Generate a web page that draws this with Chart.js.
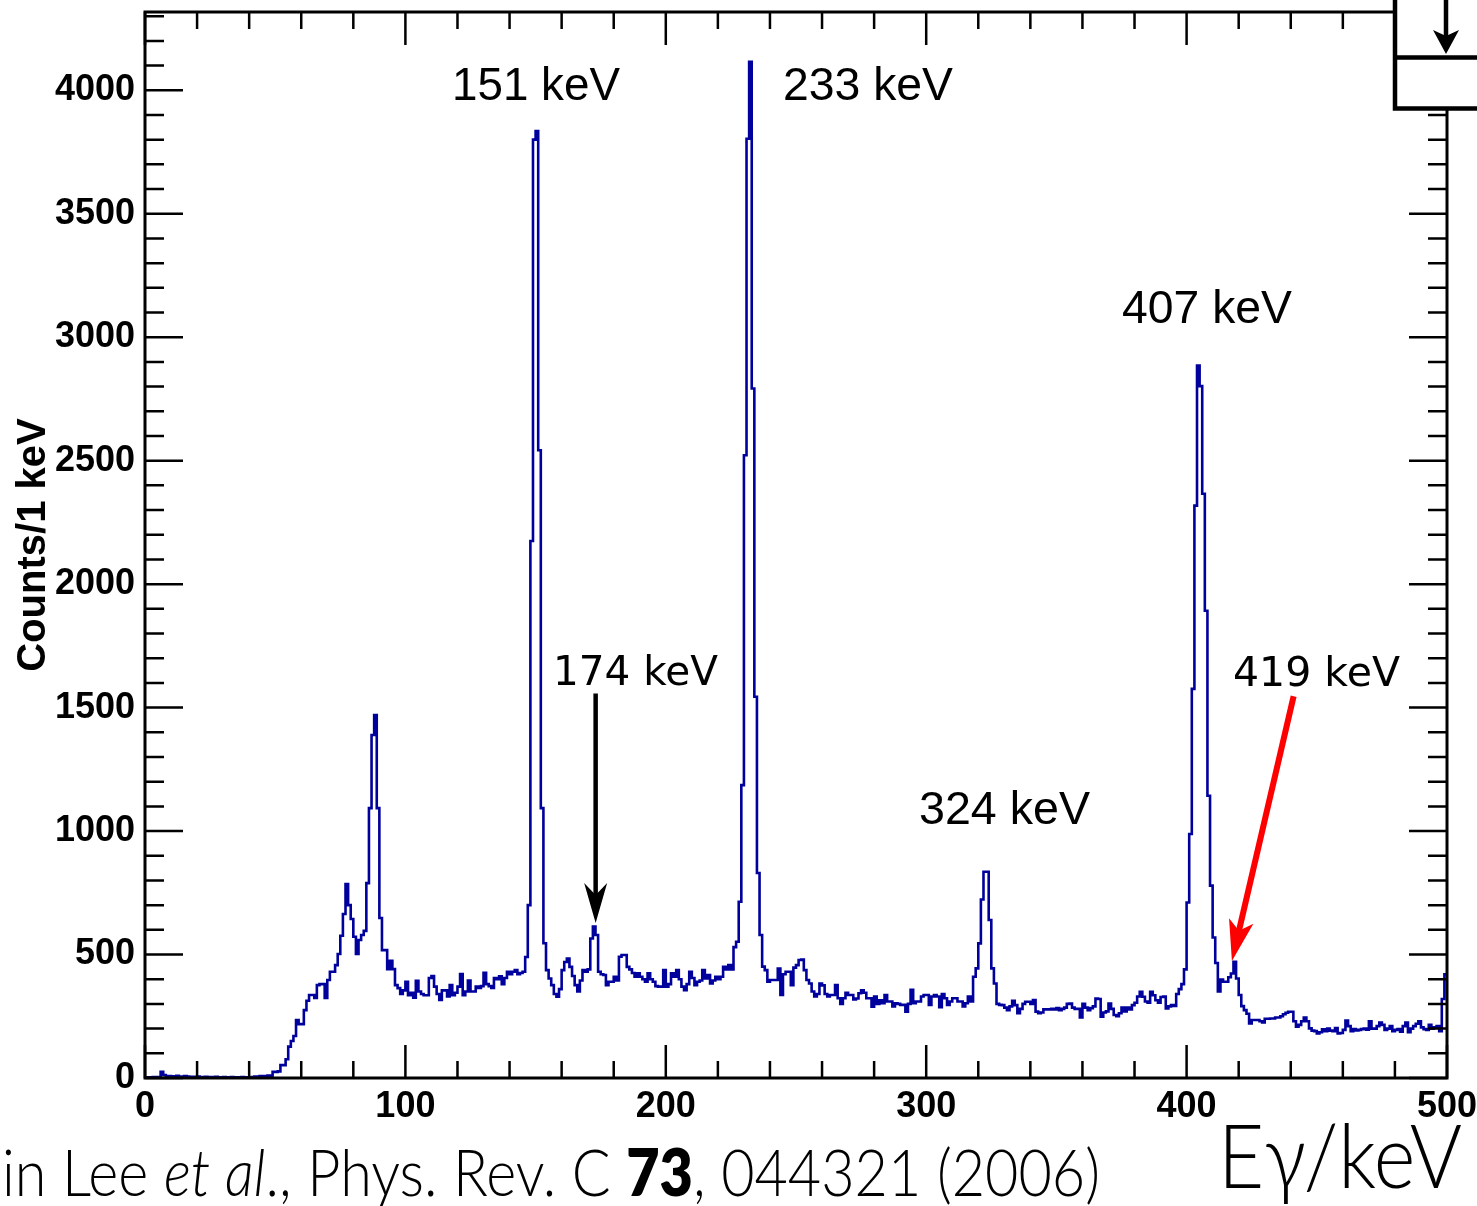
<!DOCTYPE html>
<html>
<head>
<meta charset="utf-8">
<script src="https://cdn.jsdelivr.net/npm/chart.js@4.4.1/dist/chart.umd.min.js"></script>
<style>
html,body{margin:0;padding:0;background:#fff;}
#wrap{position:relative;width:1477px;height:1206px;overflow:hidden;background:#fff;}
#c{position:absolute;left:0;top:0;}
.lbl{position:absolute;white-space:nowrap;line-height:1;color:#000;transform-origin:0 0;}
.helv{font-family:"Liberation Sans",Arial,Helvetica,sans-serif;font-size:46px;}
.dv{font-family:"DejaVu Sans",sans-serif;font-size:41px;}
.gill{font-family:Lato,"Open Sans",sans-serif;font-weight:300;}
</style>
</head>
<body>
<div id="wrap">
<canvas id="c" width="1477" height="1206"></canvas>
<div class="lbl helv" data-w="168" style="left:452px;top:61px;">151 keV</div>
<div class="lbl helv" data-w="170" style="left:783px;top:61px;">233 keV</div>
<div class="lbl helv" data-w="170" style="left:1122px;top:284px;">407 keV</div>
<div class="lbl helv" data-w="171" style="left:919px;top:785px;">324 keV</div>
<div class="lbl dv" data-w="165" style="left:553px;top:651px;">174 keV</div>
<div class="lbl dv" data-w="167" style="left:1233px;top:652px;">419 keV</div>
<div class="lbl gill" data-w="1098" style="left:2px;top:1138px;font-size:66px;">in Lee <i>et al</i>., Phys. Rev. C <b style="font-weight:800">73</b>, 044321 (2006)</div>
<div class="lbl gill" data-w="244" style="left:1218px;top:1110px;font-size:88px;">Eγ/keV</div>
</div>
<script>
// ---- data (1 keV bins, lower edge = index) ----
const firstBinKeV = 0;
const binWidthKeV = 1;
const counts = [
3,2,3,4,3,4,25,12,6,8,
5,7,9,6,5,8,6,4,5,3,
6,4,3,5,2,4,3,5,3,2,
4,3,2,4,3,2,3,4,3,2,
3,4,6,5,8,8,8,10,9,25,
25,27,52,52,76,127,150,170,235,218,
218,275,313,336,336,324,376,380,380,324,
397,430,430,457,502,576,664,785,700,644,
572,502,559,579,596,789,1093,1389,1470,1093,
648,518,518,441,475,441,376,364,340,355,
390,335,345,325,394,350,340,335,335,405,
413,370,340,316,355,355,330,376,335,345,
370,421,335,350,395,350,350,370,365,372,
426,380,372,365,405,400,412,380,405,430,
420,430,437,420,425,430,490,700,2175,3800,
3835,2542,1093,546,437,403,376,340,329,360,
437,470,484,450,413,376,350,395,437,430,
440,565,613,579,430,420,417,376,390,390,
410,395,491,498,498,450,440,425,410,424,
410,400,390,424,400,390,372,370,370,437,
370,380,424,410,437,400,370,356,380,430,
405,376,390,395,437,403,417,383,395,410,
400,410,450,440,457,440,530,552,714,1186,
2522,3804,4115,2792,1544,830,579,451,437,390,
397,397,397,443,336,420,430,430,376,447,
457,478,480,437,397,383,350,330,340,383,
375,340,330,336,336,376,323,300,323,345,
336,336,318,322,343,355,345,323,323,289,
330,300,315,303,336,310,310,290,303,300,
296,296,269,300,357,303,310,310,330,336,
336,296,330,336,330,287,340,323,296,310,
323,323,310,310,290,303,330,310,410,444,
545,723,835,835,640,444,383,300,296,295,
285,275,290,313,295,262,280,300,309,309,
300,316,269,262,265,278,278,278,280,278,
283,275,280,285,300,302,285,280,280,245,
300,285,275,283,290,322,320,248,265,270,
302,280,255,250,262,285,270,285,278,295,
305,330,349,329,310,305,349,335,315,305,
328,330,282,290,295,292,340,360,380,440,
711,988,1576,2318,2885,2802,2366,1892,1143,779,
569,466,350,399,390,390,408,423,471,403,
336,291,275,260,221,235,235,235,230,225,
240,240,241,241,245,245,250,258,264,268,
268,230,208,215,230,245,230,201,192,190,
180,185,197,190,200,192,190,202,180,182,
195,233,210,190,198,193,195,198,200,196,
230,200,200,210,225,215,195,200,210,190,
195,198,188,210,225,185,200,210,220,230,
205,198,195,215,200,205,210,190,320,420
];
const xTickValues = [0,100,200,300,400,500];
const yTickValues = [0,500,1000,1500,2000,2500,3000,3500,4000];
const xMinorStep = 20;
const yMinorStep = 100;
const xRange = [0,500];
const yRange = [0,4317];
// annotation arrows in data units: [x1,y1,x2,y2]
const blackArrow = [173.06,1557,173.06,628];
const redArrow = [441.1,1546,417.4,474];

// histogram as stepped line through bin edges
const histPoints = counts.map((v,i)=>({x:firstBinKeV+i*binWidthKeV, y:v}));
histPoints.push({x:firstBinKeV+counts.length*binWidthKeV, y:counts[counts.length-1]});

function drawArrow(ctx,x1,y1,x2,y2,color,shaftW,headLen,headW,notch){
  const dx=x2-x1, dy=y2-y1, L=Math.hypot(dx,dy);
  const ux=dx/L, uy=dy/L, nx=-uy, ny=ux;
  const bx=x2-ux*headLen, by=y2-uy*headLen;
  const mx=x2-ux*(headLen-notch), my=y2-uy*(headLen-notch);
  ctx.save();
  ctx.strokeStyle=color; ctx.fillStyle=color; ctx.lineWidth=shaftW; ctx.lineCap='butt';
  ctx.beginPath(); ctx.moveTo(x1,y1); ctx.lineTo(mx+ux*2,my+uy*2); ctx.stroke();
  ctx.beginPath();
  ctx.moveTo(x2,y2);
  ctx.lineTo(bx+nx*headW/2,by+ny*headW/2);
  ctx.lineTo(mx,my);
  ctx.lineTo(bx-nx*headW/2,by-ny*headW/2);
  ctx.closePath(); ctx.fill();
  ctx.restore();
}

const rootFrame = {
  id:'rootFrame',
  afterDatasetsDraw(chart){
    const ctx=chart.ctx, a=chart.chartArea, xs=chart.scales.x, ys=chart.scales.y;
    ctx.save();
    ctx.strokeStyle='#000'; ctx.lineWidth=2.5; ctx.lineCap='butt';
    ctx.beginPath();
    for(let v=xRange[0]; v<=xRange[1]; v+=xMinorStep){
      const px=xs.getPixelForValue(v);
      const len = (v%100===0)?33:17;
      ctx.moveTo(px,a.bottom); ctx.lineTo(px,a.bottom-len);
      ctx.moveTo(px,a.top); ctx.lineTo(px,a.top+len);
    }
    for(let v=yRange[0]; v<=yRange[1]; v+=yMinorStep){
      const py=ys.getPixelForValue(v);
      const len = (v%500===0)?38:19;
      ctx.moveTo(a.left,py); ctx.lineTo(a.left+len,py);
      ctx.moveTo(a.right,py); ctx.lineTo(a.right-len,py);
    }
    ctx.stroke();
    ctx.lineWidth=3;
    ctx.strokeRect(a.left,a.top,a.right-a.left,a.bottom-a.top);
    ctx.restore();
    drawArrow(ctx, xs.getPixelForValue(blackArrow[0]), ys.getPixelForValue(blackArrow[1]),
      xs.getPixelForValue(blackArrow[2]), ys.getPixelForValue(blackArrow[3]), '#000', 4.5, 40, 23, 12);
    drawArrow(ctx, xs.getPixelForValue(redArrow[0]), ys.getPixelForValue(redArrow[1]),
      xs.getPixelForValue(redArrow[2]), ys.getPixelForValue(redArrow[3]), '#ff0000', 6, 41, 25, 10);
  },
  afterDraw(chart){
    const ctx=chart.ctx;
    ctx.save();
    ctx.fillStyle='#fff'; ctx.fillRect(1395,0,90,108);
    ctx.strokeStyle='#000'; ctx.lineWidth=4.5;
    ctx.beginPath();
    ctx.moveTo(1395,-5); ctx.lineTo(1395,108.5); ctx.lineTo(1485,108.5);
    ctx.moveTo(1395,57.5); ctx.lineTo(1485,57.5);
    ctx.stroke();
    ctx.restore();
    drawArrow(ctx,1446,-5,1446,54,'#000',4.5,24,26,6);
  }
};

const tickFont = {family:'"Liberation Sans", Arial, Helvetica, sans-serif', weight:'bold', size:36};

new Chart(document.getElementById('c'), {
  type:'line',
  data:{datasets:[{
    data:histPoints,
    stepped:'before',
    borderColor:'#00009c',
    borderWidth:2.6,
    pointRadius:0,
    fill:false,
    tension:0
  }]},
  options:{
    responsive:false,
    devicePixelRatio:1,
    animation:false,
    events:[],
    layout:{padding:{left:0,top:12,right:30,bottom:0}},
    plugins:{legend:{display:false},tooltip:{enabled:false},title:{display:false}},
    scales:{
      x:{
        type:'linear', min:xRange[0], max:xRange[1],
        afterBuildTicks:(s)=>{ s.ticks = xTickValues.map(v=>({value:v})); },
        afterFit:(s)=>{ s.height = 128; s.paddingLeft = 0; s.paddingRight = 0; s.paddingTop = 0; s.paddingBottom = 0; },
        grid:{display:false, drawTicks:false},
        border:{display:false},
        ticks:{font:tickFont, color:'#000', padding:7, maxRotation:0, autoSkip:false, callback:(v)=>String(v)}
      },
      y:{
        type:'linear', min:yRange[0], max:yRange[1],
        afterBuildTicks:(s)=>{ s.ticks = yTickValues.map(v=>({value:v})); },
        afterFit:(s)=>{ s.width = 145; s.paddingLeft = 0; s.paddingRight = 0; s.paddingTop = 0; s.paddingBottom = 0; },
        grid:{display:false, drawTicks:false},
        border:{display:false},
        ticks:{font:tickFont, color:'#000', padding:10, autoSkip:false, callback:(v)=>String(v)},
        title:{display:true, text:'Counts/1 keV', color:'#000',
          font:{family:'"Liberation Sans", Arial, Helvetica, sans-serif', weight:'bold', size:40},
          padding:{top:10,bottom:0}}
      }
    }
  },
  plugins:[rootFrame]
});

document.querySelectorAll('.lbl[data-w]').forEach(el=>{
  const w = el.getBoundingClientRect().width;
  const target = parseFloat(el.dataset.w);
  if (w>0) el.style.transform = 'scaleX(' + (target/w) + ')';
});
</script>
</body>
</html>
